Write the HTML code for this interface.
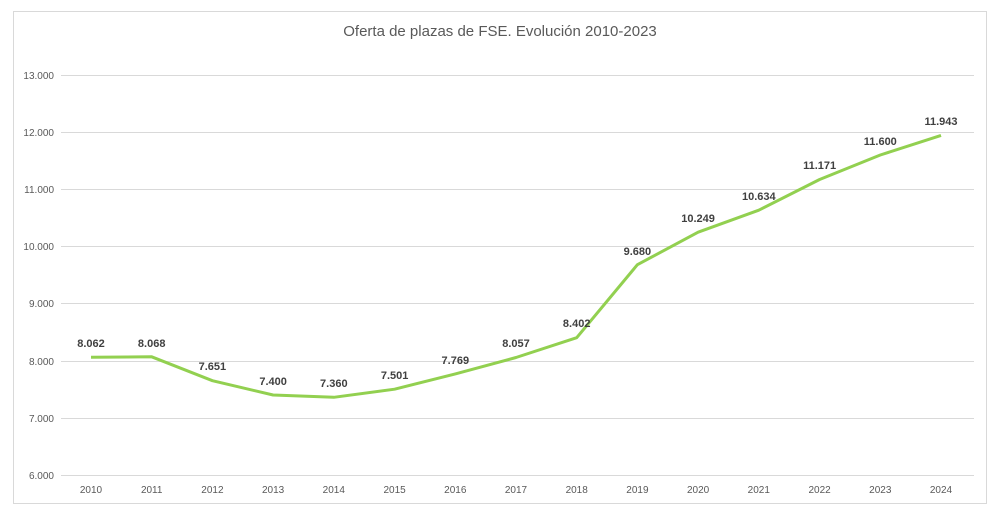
<!DOCTYPE html>
<html><head><meta charset="utf-8"><style>
html,body{margin:0;padding:0;background:#fff;}
svg{display:block;font-family:"Liberation Sans","DejaVu Sans",sans-serif;}
</style></head><body>
<svg width="1000" height="517" viewBox="0 0 1000 517">
<rect x="13.5" y="11.5" width="973" height="492" fill="#fff" stroke="#d9d9d9"/>
<text x="500" y="36" text-anchor="middle" font-size="15" fill="#595959">Oferta de plazas de FSE. Evolución 2010-2023</text>
<g stroke="#d9d9d9" stroke-width="1">
<line x1="61" x2="974" y1="75.5" y2="75.5"/><line x1="61" x2="974" y1="132.5" y2="132.5"/>
<line x1="61" x2="974" y1="189.5" y2="189.5"/><line x1="61" x2="974" y1="246.5" y2="246.5"/>
<line x1="61" x2="974" y1="303.5" y2="303.5"/><line x1="61" x2="974" y1="361.5" y2="361.5"/>
<line x1="61" x2="974" y1="418.5" y2="418.5"/><line x1="61" x2="974" y1="475.5" y2="475.5"/>
</g>
<g font-size="10" fill="#595959" text-anchor="end">
<text x="54" y="79">13.000</text><text x="54" y="136">12.000</text><text x="54" y="193">11.000</text>
<text x="54" y="250">10.000</text><text x="54" y="307">9.000</text><text x="54" y="365">8.000</text>
<text x="54" y="422">7.000</text><text x="54" y="479">6.000</text>
</g>
<g font-size="10" fill="#595959" text-anchor="middle">
<text x="91" y="493">2010</text><text x="151.7" y="493">2011</text><text x="212.4" y="493">2012</text>
<text x="273.1" y="493">2013</text><text x="333.8" y="493">2014</text><text x="394.6" y="493">2015</text>
<text x="455.3" y="493">2016</text><text x="516" y="493">2017</text><text x="576.7" y="493">2018</text>
<text x="637.4" y="493">2019</text><text x="698.1" y="493">2020</text><text x="758.8" y="493">2021</text>
<text x="819.6" y="493">2022</text><text x="880.3" y="493">2023</text><text x="941" y="493">2024</text>
</g>
<polyline fill="none" stroke="#92d050" stroke-width="3" stroke-linejoin="round" points="91,357.2 151.7,356.8 212.4,380.7 273.1,395 333.8,397.3 394.6,389.2 455.3,373.9 516,357.5 576.7,337.7 637.4,264.7 698.1,232.2 758.8,210.2 819.6,179.5 880.3,155 941,135.4"/>
<g font-size="11" font-weight="bold" fill="#404040" text-anchor="middle">
<text x="91" y="347">8.062</text><text x="151.7" y="347">8.068</text><text x="212.4" y="370">7.651</text>
<text x="273.1" y="385">7.400</text><text x="333.8" y="387">7.360</text><text x="394.6" y="379">7.501</text>
<text x="455.3" y="364">7.769</text><text x="516" y="347">8.057</text><text x="576.7" y="327">8.402</text>
<text x="637.4" y="255">9.680</text><text x="698.1" y="222">10.249</text><text x="758.8" y="200">10.634</text>
<text x="819.6" y="169">11.171</text><text x="880.3" y="145">11.600</text><text x="941" y="125">11.943</text>
</g>
</svg>
</body></html>
